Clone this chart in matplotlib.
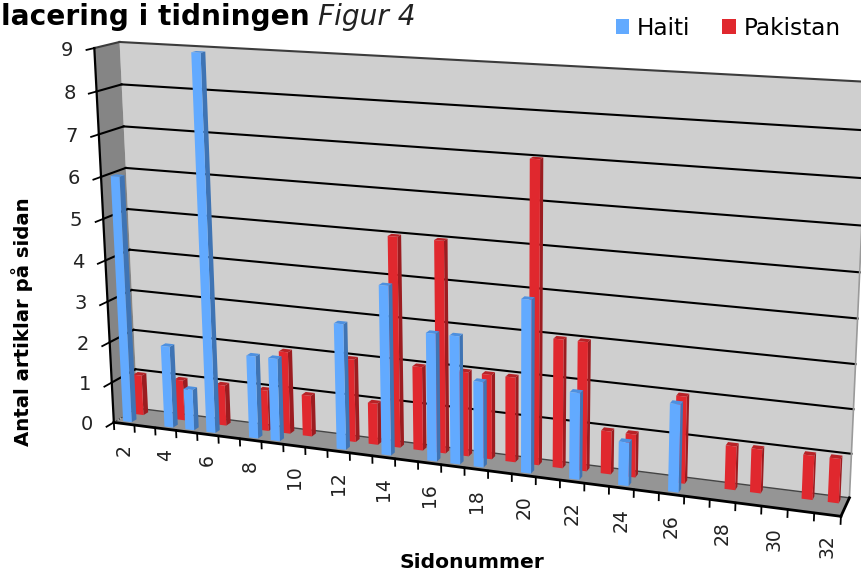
import numpy as np
import matplotlib
matplotlib.use("Agg")
import matplotlib.pyplot as plt
from matplotlib.patches import Rectangle
from matplotlib.transforms import Transform

# Chart data: articles per newspaper page, one entry per page
pages = list(range(2, 33))
haiti = [6, 0, 2, 1, 9, 0, 2, 2, 0, 0, 3, 0, 4, 0, 3, 3, 2, 0, 4, 0, 2, 0, 1, 0, 2, 0, 0, 0, 0, 0, 0]
pakistan = [1, 0, 1, 0, 1, 0, 1, 2, 1, 0, 2, 1, 5, 2, 5, 2, 2, 2, 7, 3, 3, 1, 1, 0, 2, 0, 1, 1, 0, 1, 1]
value_ticks = list(range(10))
page_labels = [str(p) if p % 2 == 0 else "" for p in pages]

# Box limits of the 3D chart (depth 0 = front, 1 = back)
PAGE_MIN, PAGE_MAX = 1.5, 32.5
VALUE_MAX = 9
BAR_WIDTH = 0.42
BAR_DEPTH = 0.2
HAITI_DEPTH = 0.14
PAKISTAN_DEPTH = 0.64

# Colours: front, side, top
HAITI_COLOURS = ("#62aaff", "#3f74b4", "#4d90e0")
PAKISTAN_COLOURS = ("#e0282e", "#9c1c20", "#b82226")


# Fits the camera matrix from box points (page, value, depth) seen at known pixels
def fit_camera():
    world = np.array([
        (1.5, 0, 0), (1.5, 9, 0), (1.5, 5, 0), (1.5, 9, 1), (1.5, 5, 1), (1.5, 0, 1),
        (32.5, 0, 0), (32.5, 0, 1), (32.5, 4, 1), (32.5, 9, 1), (15.5, 0, 0), (24.5, 0, 0),
    ], dtype=float)
    pixels = np.array([
        (114.5, 423), (94, 48), (103.3, 218.5), (120, 42), (127.7, 209), (137, 408),
        (841, 516), (849.5, 497), (858, 320), (868, 81.5), (417.3, 461.8), (634, 489.5),
    ], dtype=float)
    rows = []
    for (p, v, d), (x, y) in zip(world, pixels):
        w = [p, v, d, 1]
        rows.append(w + [0, 0, 0, 0] + [-x * c for c in w])
        rows.append([0, 0, 0, 0] + w + [-y * c for c in w])
    return np.linalg.svd(np.array(rows))[2][-1].reshape(3, 4)


CAMERA = fit_camera()


# Maps 2D coordinates on one plane of the box to pixels; `fixed` holds the
# constant coordinate, e.g. {"depth": 1} takes (page, value)
class BoxPlane(Transform):
    input_dims = 2
    output_dims = 2

    def __init__(self, **fixed):
        super().__init__()
        self.fixed = fixed

    def transform_non_affine(self, values):
        values = np.asarray(values, dtype=float)
        free = [n for n in ("page", "depth", "value") if n not in self.fixed]
        coords = {free[0]: values[:, 0], free[1]: values[:, 1]}
        for name, level in self.fixed.items():
            coords[name] = np.full(len(values), level, dtype=float)
        world = np.column_stack([coords["page"], coords["value"], coords["depth"], np.ones(len(values))])
        projected = world @ CAMERA.T
        return projected[:, :2] / projected[:, 2:]


def plane(ax, **fixed):
    return BoxPlane(**fixed) + ax.transData


# Draws one data series as a row of 3D columns
def draw_series(ax, values, depth, colours, label, zorder):
    front, side, top = colours
    xs = [p for p, v in zip(pages, values) if v > 0]
    heights = [v for v in values if v > 0]
    for p, v in zip(xs, heights):
        ax.add_patch(Rectangle((depth, 0), BAR_DEPTH, v, facecolor=side, zorder=zorder,
                               transform=plane(ax, page=p + BAR_WIDTH / 2)))
        ax.add_patch(Rectangle((p - BAR_WIDTH / 2, depth), BAR_WIDTH, BAR_DEPTH, facecolor=top, zorder=zorder,
                               transform=plane(ax, value=v)))
    ax.bar(xs, heights, BAR_WIDTH, color=front, label=label, zorder=zorder, transform=plane(ax, depth=depth))


fig = plt.figure(figsize=(8.61, 5.74), dpi=100)
ax = fig.add_axes([0, 0, 1, 1])
ax.set_xlim(0, 861)
ax.set_ylim(574, 0)
ax.set_autoscale_on(False)
ax.axis("off")

# Walls and floor
ax.add_patch(Rectangle((PAGE_MIN, 0), PAGE_MAX - PAGE_MIN, VALUE_MAX, facecolor="#cfcfcf", zorder=0,
                       transform=plane(ax, depth=1)))
ax.add_patch(Rectangle((0, 0), 1, VALUE_MAX, facecolor="#858585", zorder=0, transform=plane(ax, page=PAGE_MIN)))
ax.add_patch(Rectangle((PAGE_MIN, 0), PAGE_MAX - PAGE_MIN, 1, facecolor="#959595", zorder=0,
                       transform=plane(ax, value=0)))

# Gridlines on back and side wall
for v in value_ticks[1:]:
    colour = "#3c3c3c" if v == VALUE_MAX else "black"
    ax.plot([PAGE_MIN, PAGE_MAX], [v, v], color=colour, lw=1.5, zorder=0.5, transform=plane(ax, depth=1))
    ax.plot([0, 1], [v, v], color=colour, lw=1.5, zorder=0.5, transform=plane(ax, page=PAGE_MIN))
ax.plot([PAGE_MAX, PAGE_MAX], [0, VALUE_MAX], color="#9a9a9a", lw=1.2, zorder=0.5, transform=plane(ax, depth=1))
ax.plot([PAGE_MIN, PAGE_MAX], [0, 0], color="#444444", lw=1, zorder=0.5, transform=plane(ax, depth=1))
ax.plot([0, 1], [0, 0], color="#222222", lw=0.8, ls=":", zorder=0.5, transform=plane(ax, page=PAGE_MIN))

# Columns, back row first
draw_series(ax, pakistan, PAKISTAN_DEPTH, PAKISTAN_COLOURS, "Pakistan", 1)
draw_series(ax, haiti, HAITI_DEPTH, HAITI_COLOURS, "Haiti", 1.5)

# Axis lines
ax.plot([PAGE_MIN, PAGE_MAX], [0, 0], color="black", lw=2, transform=plane(ax, depth=0))
ax.plot([PAGE_MIN, PAGE_MIN], [0, VALUE_MAX], color="black", lw=1.6, transform=plane(ax, depth=0))
ax.plot([0, 1], [0, 0], color="black", lw=2, transform=plane(ax, page=PAGE_MAX))

# Value axis ticks and labels
for v in value_ticks:
    ax.plot([-0.3, 0], [v, v], color="black", lw=1.3, transform=plane(ax, page=PAGE_MIN))
    ax.annotate(str(v), (0, v), xycoords=plane(ax, page=PAGE_MIN), xytext=(-21, -2),
                textcoords="offset pixels", ha="right", va="center", fontsize=14, color="#222222")

# Page axis ticks and labels
for edge in np.arange(PAGE_MIN, PAGE_MAX + 1):
    ax.plot([edge, edge], [0, -0.17], color="black", lw=1.3, transform=plane(ax, depth=0))
for p, text in zip(pages, page_labels):
    ax.annotate(text, (p, 0), xycoords=plane(ax, depth=0), xytext=(0, -20),
                textcoords="offset pixels", ha="center", va="top", rotation=90,
                fontsize=13.5, color="#222222")

# Titles
ax.text(1, 25, "lacering i tidningen", fontsize=20.2, fontweight="bold", va="baseline")
ax.text(318, 25, "Figur 4", fontsize=20.2, fontstyle="oblique", va="baseline", color="#222222")
ax.text(472, 563, "Sidonummer", fontsize=14.6, fontweight="bold", ha="center", va="center")
ax.text(22, 322, "Antal artiklar på sidan", fontsize=14.2, fontweight="bold", rotation=90,
        ha="center", va="center")

# Legend, Haiti first
handles, labels = ax.get_legend_handles_labels()
ax.legend(handles[::-1], labels[::-1], ncol=2, loc="upper right", bbox_to_anchor=(852, 5),
          bbox_transform=ax.transData, frameon=False, fontsize=16.7, borderpad=0,
          handlelength=0.58, handleheight=0.58, handletextpad=0.32, columnspacing=1.4)

fig.savefig("out.png", dpi=100)
